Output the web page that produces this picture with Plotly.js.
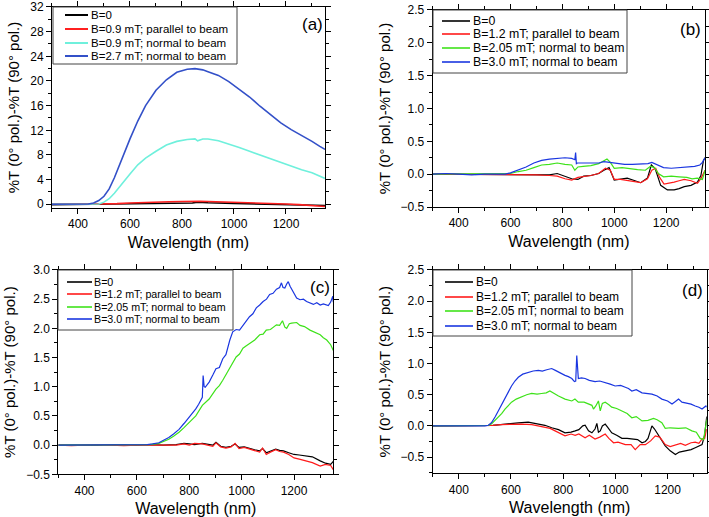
<!DOCTYPE html>
<html>
<head>
<meta charset="utf-8">
<script src="https://cdn.plot.ly/plotly-3.0.1.min.js"></script>
<style>html,body{margin:0;padding:0;background:#fff;}#plot{width:709px;height:517px;}</style>
</head>
<body>
<div id="plot"></div>
<script>
// ---------- Panel (a) ----------
const aX_black = [300,500,600,700,800,840,860,880,900,1000,1100,1200,1300,1350];
const aY_black = [-0.05,0,0.05,0.1,0.15,0.2,0.35,0.3,0.25,0.15,0.05,0,-0.1,-0.2];
const aX_red = [300,450,500,550,600,650,700,750,800,850,860,870,900,950,1000,1050,1100,1150,1200,1250,1300,1350];
const aY_red = [0,0,0.02,0.1,0.2,0.3,0.4,0.4,0.45,0.5,0.6,0.5,0.45,0.4,0.35,0.3,0.25,0.15,0.05,-0.05,-0.15,-0.35];
const aX_cyan = [300,400,460,480,500,520,540,560,580,600,630,660,700,740,780,820,850,860,880,900,940,980,1020,1060,1100,1140,1180,1220,1260,1300,1330,1350];
const aY_cyan = [0,0,0,0.05,0.35,0.9,1.8,2.9,3.9,4.9,6.4,7.5,8.6,9.6,10.2,10.5,10.6,10.3,10.6,10.6,10.3,9.8,9.2,8.6,8.0,7.4,6.7,6.1,5.6,5.1,4.6,4.2];
const aX_blue = [300,350,400,440,460,480,500,520,540,560,580,600,630,660,700,740,780,820,850,880,900,940,980,1020,1060,1100,1140,1180,1220,1260,1300,1330,1350];
const aY_blue = [0,0,0,0.05,0.2,0.6,1.3,2.5,4.3,6.5,8.6,10.6,13.5,16.0,18.5,20.2,21.4,21.9,22.0,21.8,21.5,20.9,19.9,18.7,17.4,15.9,14.5,13.2,12.1,11.2,10.2,9.4,8.9];
const aNames = ["B=0","B=0.9 mT; parallel to beam","B=0.9 mT; normal to beam","B=2.7 mT; normal to beam"];

// ---------- Panel (b) ----------
const bX_black = [300,400,500,600,650,700,750,780,810,836,860,882,910,940,960,980,1000,1024,1050,1080,1102,1128,1143,1158,1179,1205,1231,1250,1270,1296,1321,1334,1344,1350];
const bY_black = [0,0,0,0,-0.01,0,-0.01,0.01,-0.03,-0.07,-0.08,-0.03,-0.02,0.01,0.06,0.1,-0.09,-0.07,-0.06,-0.1,-0.13,-0.06,0.14,0.08,-0.17,-0.24,-0.24,-0.22,-0.19,-0.17,-0.12,-0.02,0.21,0.25];
const bX_red = [300,400,500,600,650,700,750,780,810,836,860,880,910,940,966,985,1000,1024,1050,1080,1102,1128,1145,1160,1175,1192,1210,1231,1250,1270,1296,1321,1335,1350];
const bY_red = [0,0,0,0,-0.01,-0.01,-0.02,-0.03,-0.07,-0.09,-0.05,-0.04,-0.02,0.01,0.09,0.06,-0.08,-0.08,-0.1,-0.12,-0.13,-0.07,0.06,0.09,-0.05,-0.15,-0.14,-0.12,-0.1,-0.08,-0.1,-0.14,-0.06,0.06];
const bX_green = [300,400,500,580,600,630,660,690,720,750,780,810,836,848,860,880,910,940,960,972,985,1000,1030,1060,1090,1120,1140,1155,1170,1190,1220,1250,1280,1300,1320,1340,1350];
const bY_green = [0,0,0,0,0.01,0.04,0.06,0.1,0.14,0.15,0.17,0.15,0.14,0.06,0.11,0.12,0.13,0.16,0.2,0.23,0.18,0.09,0.1,0.08,0.07,0.06,0.12,0.1,0.01,-0.04,-0.03,-0.04,-0.05,-0.07,-0.06,-0.08,0.06];
const bX_blue = [300,350,400,450,500,550,580,600,630,660,690,720,750,780,810,836,848,851,854,858,880,910,940,960,980,1010,1040,1070,1100,1130,1145,1160,1190,1220,1250,1280,1310,1330,1340,1350];
const bY_blue = [0,0.01,0,-0.01,0,0,0,0.02,0.06,0.11,0.17,0.21,0.23,0.24,0.25,0.24,0.22,0.33,0.16,0.17,0.17,0.17,0.17,0.19,0.18,0.16,0.15,0.15,0.15,0.16,0.18,0.15,0.1,0.09,0.1,0.1,0.12,0.14,0.18,0.25];
const bNames = ["B=0","B=1.2 mT; parallel to beam","B=2.05 mT; normal to beam","B=3.0 mT; normal to beam"];

// ---------- Panel (c) ----------
const cX_black = [300,350,400,450,500,550,600,650,700,750,780,800,820,850,870,890,902,920,940,960,975,990,1010,1030,1050,1069,1080,1094,1110,1130,1145,1160,1180,1200,1220,1248,1270,1300,1320,1340,1350];
const cY_black = [0,0,-0.01,0,0.01,0,0,0.01,0,0.01,0.03,0.02,0.01,0.03,0.01,0,0.05,-0.02,-0.04,-0.02,0.02,-0.04,-0.03,-0.06,-0.08,-0.1,-0.06,-0.13,-0.1,-0.07,-0.09,-0.1,-0.13,-0.16,-0.17,-0.19,-0.2,-0.27,-0.31,-0.33,-0.28];
const cX_red = [300,350,400,450,500,550,600,650,700,750,780,800,820,850,870,890,902,920,940,960,975,990,1010,1030,1050,1069,1080,1094,1110,1130,1145,1160,1180,1200,1220,1248,1270,1300,1320,1340,1350];
const cY_red = [0,-0.01,0,0.01,0,-0.01,0,0,-0.01,0,0.02,0,0.03,0.02,0,-0.02,0.04,-0.03,-0.05,-0.03,0.03,-0.06,-0.04,-0.07,-0.1,-0.12,-0.05,-0.16,-0.12,-0.08,-0.11,-0.12,-0.16,-0.22,-0.24,-0.28,-0.3,-0.36,-0.33,-0.35,-0.42];
const cX_green = [300,400,500,600,650,684,700,722,740,761,780,799,825,850,876,902,915,928,940,954,966,979,992,1005,1018,1030,1050,1069,1082,1094,1110,1133,1145,1156,1165,1172,1182,1191,1210,1223,1240,1261,1280,1300,1312,1325,1340,1350];
const cY_green = [0,0,0,0,0.01,0.03,0.06,0.1,0.15,0.22,0.3,0.39,0.5,0.68,0.79,0.96,1.02,1.11,1.2,1.31,1.4,1.51,1.56,1.66,1.7,1.74,1.8,1.89,1.9,1.97,1.98,2.06,2.05,2.13,2.02,2.0,2.08,2.09,2.1,2.05,2.03,1.97,1.93,1.89,1.84,1.8,1.72,1.62];
const cX_blue = [300,400,500,600,640,660,684,700,722,740,761,780,799,812,825,836,844,850,853,857,861,868,876,890,902,915,928,940,947,955,966,979,992,1005,1018,1030,1043,1056,1069,1082,1095,1107,1120,1133,1145,1152,1158,1165,1172,1178,1185,1197,1210,1223,1236,1248,1261,1274,1287,1300,1312,1325,1331,1340,1348,1350];
const cY_blue = [0,0,0,0,0.01,0.02,0.04,0.08,0.13,0.19,0.27,0.37,0.47,0.55,0.62,0.7,0.76,0.82,1.19,1.0,0.99,1.03,1.08,1.2,1.31,1.33,1.48,1.55,1.68,1.8,1.94,1.98,1.97,2.05,2.12,2.2,2.25,2.35,2.4,2.46,2.5,2.58,2.6,2.67,2.7,2.78,2.7,2.69,2.76,2.8,2.72,2.61,2.52,2.49,2.5,2.46,2.44,2.41,2.44,2.4,2.42,2.4,2.39,2.45,2.55,2.45];
const cNames = bNames;

// ---------- Panel (d) ----------
const dX_black = [300,400,500,530,560,600,628,666,705,730,756,782,807,830,846,860,875,884,897,910,922,929,935,942,950,961,970,986,1005,1025,1045,1063,1085,1102,1115,1125,1140,1150,1166,1178,1191,1210,1230,1245,1268,1290,1306,1320,1332,1342,1350];
const dY_black = [0,0,0,0.01,0.02,0.04,0.05,0.06,0.03,0.01,-0.03,-0.06,-0.11,-0.1,-0.08,-0.06,0,0.01,-0.08,-0.11,-0.05,0.04,-0.1,-0.08,0,0.03,-0.02,-0.11,-0.15,-0.2,-0.2,-0.21,-0.22,-0.27,-0.25,-0.2,0.0,-0.05,-0.16,-0.25,-0.32,-0.4,-0.46,-0.42,-0.4,-0.38,-0.35,-0.32,-0.3,-0.15,0.15];
const dX_red = [300,400,500,530,560,600,640,680,717,750,769,790,807,830,846,860,884,900,922,940,961,975,993,1010,1038,1060,1076,1095,1115,1135,1153,1170,1191,1210,1230,1250,1268,1290,1306,1320,1332,1342,1350];
const dY_red = [0,0,0,0.01,0.02,0.03,0.03,0.02,-0.01,-0.04,-0.08,-0.12,-0.16,-0.13,-0.15,-0.13,-0.19,-0.15,-0.21,-0.18,-0.13,-0.2,-0.27,-0.26,-0.3,-0.3,-0.38,-0.3,-0.3,-0.24,-0.16,-0.18,-0.3,-0.33,-0.3,-0.28,-0.31,-0.27,-0.26,-0.28,-0.21,-0.2,-0.05];
const dX_green = [300,400,500,513,525,540,551,565,577,590,602,620,640,660,679,700,717,735,749,765,782,807,833,845,858,880,897,910,916,925,935,942,950,961,975,986,1005,1025,1045,1063,1080,1102,1125,1146,1160,1178,1191,1210,1242,1270,1293,1310,1325,1338,1347,1350];
const dY_green = [0,0,0,0.01,0.03,0.09,0.13,0.2,0.27,0.32,0.38,0.43,0.47,0.5,0.52,0.51,0.52,0.53,0.56,0.52,0.48,0.43,0.4,0.43,0.38,0.38,0.35,0.33,0.27,0.32,0.4,0.24,0.36,0.38,0.34,0.3,0.28,0.24,0.2,0.13,0.15,0.08,0.09,0.12,0.1,0.05,-0.04,-0.03,-0.04,-0.03,-0.08,-0.1,-0.2,-0.22,0.03,0.1];
const dX_blue = [300,350,400,450,500,513,525,540,551,565,577,590,602,615,628,645,666,685,705,720,737,756,770,782,795,807,820,833,843,848,852,855,858,870,884,900,922,940,961,980,999,1020,1038,1050,1063,1080,1102,1120,1140,1160,1178,1200,1217,1230,1242,1255,1268,1290,1306,1320,1332,1347,1350];
const dY_blue = [0,0,-0.01,0,0,0.01,0.05,0.15,0.24,0.35,0.46,0.56,0.64,0.72,0.78,0.83,0.86,0.88,0.89,0.88,0.9,0.92,0.89,0.86,0.84,0.81,0.79,0.76,0.71,0.72,1.13,0.8,0.76,0.77,0.76,0.73,0.71,0.72,0.7,0.67,0.64,0.65,0.62,0.6,0.56,0.58,0.53,0.52,0.51,0.48,0.43,0.4,0.35,0.39,0.43,0.38,0.37,0.35,0.32,0.3,0.27,0.32,0.3];
const dNames = bNames;

const panelLabels = ["(a)","(b)","(c)","(d)"];
const xTitle = "Wavelength (nm)";
const yTitle = "%T (0° pol.)-%T (90° pol.)";

const colA = ["#000000","#ff2020","#6ff0dc","#3350c8"];
const colB = ["#000000","#ff1a1a","#3ee21a","#1a36e0"];

const W = 709, H = 517;
const px = v => v / W;
const py = v => 1 - v / H;

function mk(x, y, name, color, xa, ya, w) {
  return {x: x, y: y, name: name, type: "scatter", mode: "lines",
    line: {color: color, width: w}, xaxis: xa, yaxis: ya, showlegend: false};
}

const traces = [
  mk(aX_black,aY_black,aNames[0],colA[0],"x","y",1.6),
  mk(aX_red,aY_red,aNames[1],colA[1],"x","y",1.6),
  mk(aX_cyan,aY_cyan,aNames[2],colA[2],"x","y",1.6),
  mk(aX_blue,aY_blue,aNames[3],colA[3],"x","y",1.6),
  mk(bX_black,bY_black,bNames[0],colB[0],"x2","y2",1.2),
  mk(bX_red,bY_red,bNames[1],colB[1],"x2","y2",1.2),
  mk(bX_green,bY_green,bNames[2],colB[2],"x2","y2",1.2),
  mk(bX_blue,bY_blue,bNames[3],colB[3],"x2","y2",1.2),
  mk(cX_black,cY_black,cNames[0],colB[0],"x3","y3",1.2),
  mk(cX_red,cY_red,cNames[1],colB[1],"x3","y3",1.2),
  mk(cX_green,cY_green,cNames[2],colB[2],"x3","y3",1.2),
  mk(cX_blue,cY_blue,cNames[3],colB[3],"x3","y3",1.2),
  mk(dX_black,dY_black,dNames[0],colB[0],"x4","y4",1.2),
  mk(dX_red,dY_red,dNames[1],colB[1],"x4","y4",1.2),
  mk(dX_green,dY_green,dNames[2],colB[2],"x4","y4",1.2),
  mk(dX_blue,dY_blue,dNames[3],colB[3],"x4","y4",1.2)
];

const FONT = "Liberation Sans, Arial, sans-serif";
function xax(domain, anchor) {
  return {domain: domain, anchor: anchor, range: [300,1350], tick0: 400, dtick: 200,
    ticks: "outside", ticklen: 5, tickwidth: 1, tickcolor: "#000", showline: true, linecolor: "#000",
    linewidth: 1, mirror: "ticks", showgrid: false, zeroline: false,
    minor: {dtick: 100, tick0: 400, ticks: "outside", ticklen: 3, tickcolor: "#000"},
    tickfont: {size: 12, family: FONT, color: "#000"},
    title: {text: xTitle, font: {size: 16, family: FONT, color: "#000"}, standoff: 6}};
}
function yax(domain, anchor, range, dtick, fmt) {
  return {domain: domain, anchor: anchor, range: range, tick0: 0, dtick: dtick,
    ticks: "outside", ticklen: 5, tickwidth: 1, tickcolor: "#000", showline: true, linecolor: "#000",
    linewidth: 1, mirror: "ticks", showgrid: false, zeroline: false, tickformat: fmt,
    minor: {dtick: dtick/2, tick0: 0, ticks: "outside", ticklen: 3, tickcolor: "#000"},
    tickfont: {size: 12, family: FONT, color: "#000"},
    title: {text: yTitle, font: {size: 15, family: FONT, color: "#000"}, standoff: 6}};
}

// Hand-built legend boxes (pixel layout), names/colours come from the arrays above
const legendSpecs = [
  {names: aNames, cols: colA, w: 1.6, box: [53,7,237,64], lx: [65,88], tx: 90, ys: [15,29,43,56], fs: 11.5},
  {names: bNames, cols: colB, w: 1.2, box: [433,10,627,73], lx: [442,470], tx: 472, ys: [21,34,48,62], fs: 12.3},
  {names: cNames, cols: colB, w: 1.2, box: [58,270,233,330], lx: [67,92], tx: 93, ys: [282,294,307,319], fs: 10.7},
  {names: dNames, cols: colB, w: 1.2, box: [433,270,632,336], lx: [445,473], tx: 475, ys: [282,297,311,326], fs: 12}
];
const shapes = [];
const annotations = [];
legendSpecs.forEach(s => {
  shapes.push({type: "rect", xref: "paper", yref: "paper", x0: px(s.box[0]), x1: px(s.box[2]),
    y0: py(s.box[3]), y1: py(s.box[1]), line: {color: "#444", width: 1}, fillcolor: "#fff", layer: "above"});
  s.names.forEach((n, i) => {
    shapes.push({type: "line", xref: "paper", yref: "paper", x0: px(s.lx[0]), x1: px(s.lx[1]),
      y0: py(s.ys[i]), y1: py(s.ys[i]), line: {color: s.cols[i], width: s.w + 0.4}, layer: "above"});
    annotations.push({text: n, xref: "paper", yref: "paper", x: px(s.tx), y: py(s.ys[i]),
      xanchor: "left", yanchor: "middle", showarrow: false, borderpad: 0,
      font: {size: s.fs, family: FONT, color: "#000"}});
  });
});
const labelPos = [[312,24],[690,30],[320,287],[692,290]];
panelLabels.forEach((t, i) => {
  annotations.push({text: t, xref: "paper", yref: "paper", x: px(labelPos[i][0]), y: py(labelPos[i][1]),
    xanchor: "center", yanchor: "middle", showarrow: false, font: {size: 17, family: FONT, color: "#000"}});
});

const layout = {
  width: W, height: H, margin: {l: 0, r: 0, t: 0, b: 0},
  paper_bgcolor: "#fff", plot_bgcolor: "#fff", showlegend: false,
  font: {family: FONT, color: "#000"},
  xaxis: xax([0.0733,0.4584], "y"),
  yaxis: yax([0.5977,0.9865], "x", [-0.6,32], 4, ""),
  xaxis2: xax([0.6103,0.9944], "y2"),
  yaxis2: yax([0.5996,0.9807], "x2", [-0.5,2.5], 0.5, ".1f"),
  xaxis3: xax([0.0822,0.4701], "y3"),
  yaxis3: yax([0.0826,0.4778], "x3", [-0.5,3.0], 0.5, ".1f"),
  xaxis4: xax([0.6103,0.9968], "y4"),
  yaxis4: yax([0.0845,0.4778], "x4", [-0.76,2.5], 0.5, ".1f"),
  shapes: shapes,
  annotations: annotations
};

Plotly.newPlot("plot", traces, layout, {staticPlot: true, displayModeBar: false});
</script>
</body>
</html>
